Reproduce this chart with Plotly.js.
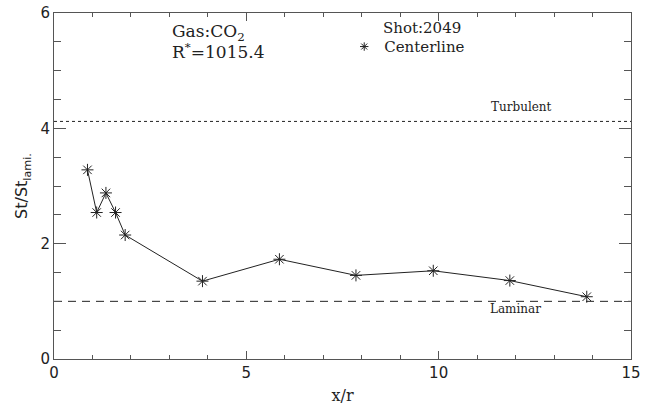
<!DOCTYPE html>
<html>
<head>
<meta charset="utf-8">
<script src="https://cdn.plot.ly/plotly-3.0.1.min.js"></script>
<style>
  html, body { margin: 0; padding: 0; background: #fff; }
  #chart { width: 653px; height: 406px; }
</style>
</head>
<body>
<div id="chart"></div>
<script>
// Centerline Stanton number ratio along the tube, shot 2049
const xOverR = [0.87, 1.11, 1.35, 1.60, 1.85, 3.86, 5.86, 7.85, 9.86, 11.85, 13.85];
const stRatio = [3.28, 2.54, 2.88, 2.54, 2.15, 1.35, 1.73, 1.45, 1.53, 1.36, 1.08];

// Reference levels
const refX = [0, 15];
const turbulentLevel = 4.12;
const laminarLevel = 1.0;

const ink = '#222';
const frame = '#555';
const serif = '"DejaVu Serif", "Liberation Serif", serif';
const sans = '"DejaVu Sans", "Liberation Sans", sans-serif';

const traces = [
  {
    x: refX, y: [turbulentLevel, turbulentLevel],
    mode: 'lines', showlegend: false, hoverinfo: 'skip',
    line: { color: ink, width: 1, dash: 'dot' }
  },
  {
    x: refX, y: [laminarLevel, laminarLevel],
    mode: 'lines', showlegend: false, hoverinfo: 'skip',
    line: { color: ink, width: 1, dash: '8px,6px' }
  },
  {
    x: xOverR, y: stRatio,
    mode: 'lines+markers', showlegend: false,
    line: { color: ink, width: 1 },
    marker: { symbol: 'asterisk-open', size: 10, color: ink, line: { color: ink, width: 1 } }
  },
  {
    // legend entry only
    x: [null], y: [null], name: 'Centerline',
    mode: 'markers', showlegend: true,
    marker: { symbol: 'asterisk-open', size: 7, color: ink, line: { color: ink, width: 1 } }
  }
];

const layout = {
  width: 653, height: 406,
  margin: { l: 54, r: 22, t: 13, b: 47 },
  paper_bgcolor: '#fff', plot_bgcolor: '#fff',
  font: { family: sans, color: ink },
  showlegend: true,
  legend: {
    x: 0.503, y: 0.95, xanchor: 'left', yanchor: 'top',
    bgcolor: 'rgba(0,0,0,0)', borderwidth: 0,
    itemwidth: 30, tracegroupgap: 0,
    font: { family: serif, size: 15, color: ink }
  },
  xaxis: {
    range: [0, 15], dtick: 5, tick0: 0,
    ticks: 'inside', ticklen: 8, tickcolor: frame, tickwidth: 1,
    minor: { dtick: 1, ticks: 'inside', ticklen: 4, tickcolor: frame },
    showline: true, linecolor: frame, linewidth: 1, mirror: 'ticks',
    showgrid: false, zeroline: false,
    tickfont: { family: sans, size: 15, color: ink },
    title: { text: 'x/r', font: { family: serif, size: 16, color: ink }, standoff: 8 }
  },
  yaxis: {
    range: [0, 6], dtick: 2, tick0: 0,
    ticks: 'inside', ticklen: 12, tickcolor: frame, tickwidth: 1,
    minor: { dtick: 0.5, ticks: 'inside', ticklen: 7, tickcolor: frame },
    showline: true, linecolor: frame, linewidth: 1, mirror: 'ticks',
    showgrid: false, zeroline: false,
    tickfont: { family: sans, size: 15, color: ink },
    title: { text: 'St/St<sub>lami.</sub>', font: { family: sans, size: 16, color: ink }, standoff: 8 }
  },
  annotations: [
    {
      xref: 'paper', yref: 'paper', x: 0.2015, y: 0.945, xanchor: 'left', yanchor: 'middle',
      text: 'Gas:CO<sub>2</sub>', showarrow: false, align: 'left',
      font: { family: serif, size: 17, color: ink }
    },
    {
      xref: 'paper', yref: 'paper', x: 0.2015, y: 0.889, xanchor: 'left', yanchor: 'middle',
      text: 'R<sup>*</sup>=1015.4', showarrow: false, align: 'left',
      font: { family: serif, size: 17, color: ink }
    },
    {
      xref: 'paper', yref: 'paper', x: 0.5675, y: 0.957, xanchor: 'left', yanchor: 'middle',
      text: 'Shot:2049', showarrow: false,
      font: { family: serif, size: 15, color: ink }
    },
    {
      xref: 'x', yref: 'y', x: 12.15, y: turbulentLevel, xanchor: 'center', yanchor: 'bottom',
      yshift: 5, text: 'Turbulent', showarrow: false,
      font: { family: serif, size: 12, color: ink }
    },
    {
      xref: 'x', yref: 'y', x: 12.0, y: laminarLevel, xanchor: 'center', yanchor: 'top',
      yshift: 1, text: 'Laminar', showarrow: false,
      font: { family: serif, size: 12, color: ink }
    }
  ]
};

Plotly.newPlot('chart', traces, layout, { staticPlot: true, displayModeBar: false });
</script>
</body>
</html>
